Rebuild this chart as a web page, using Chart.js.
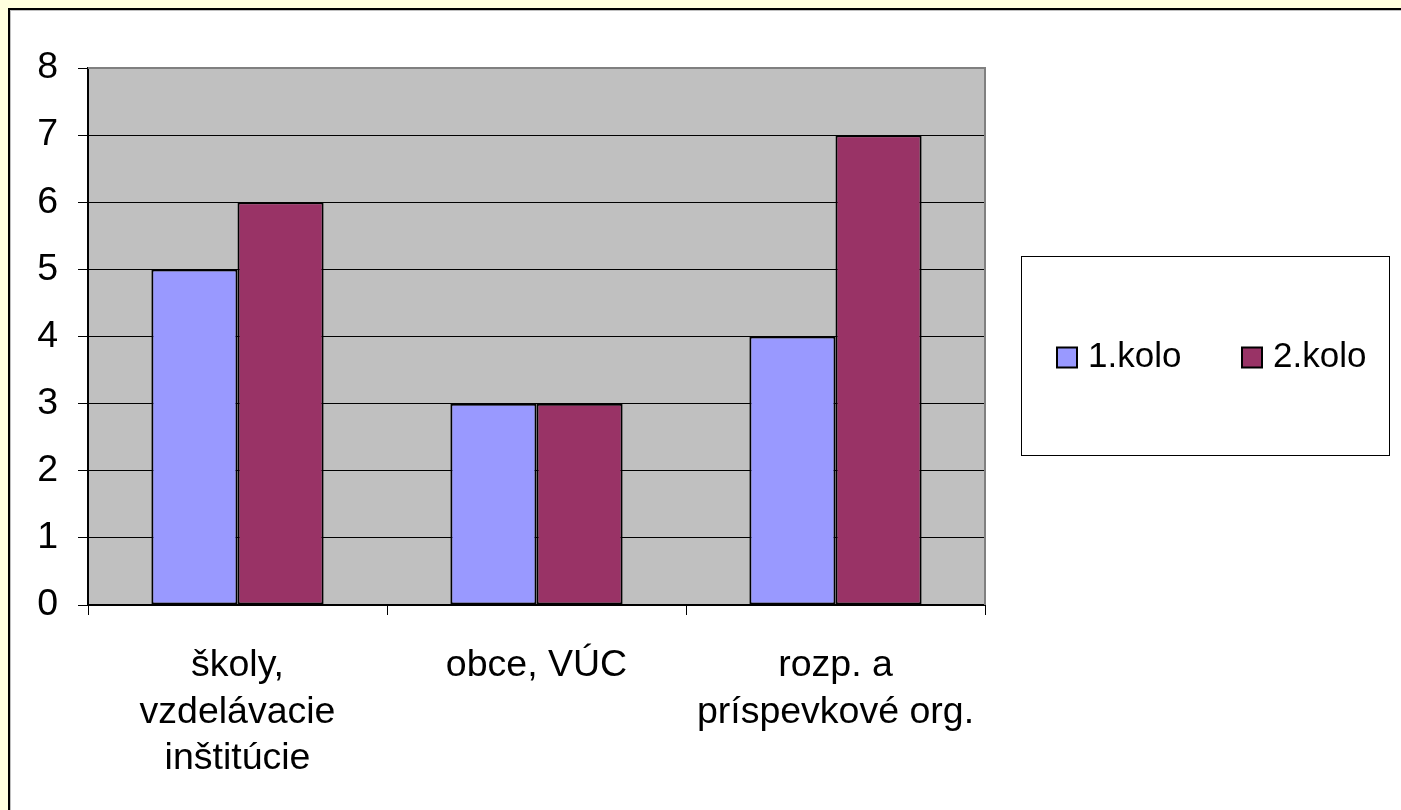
<!DOCTYPE html>
<html lang="sk">
<head>
  <meta charset="UTF-8">
  <title>Kolá</title>
  <style>
    html, body { margin: 0; padding: 0; background: #FFFFDE; overflow: hidden; }
    #frame {
      position: absolute; left: 8px; top: 8px; right: 0; bottom: 0;
      background: #fff; border-left: 2px solid #000; border-top: 2px solid #000;
      box-shadow: inset 1px 1px 0 #c0c0c0;
    }
    #myChart { position: absolute; left: 0; top: 0; }
  </style>
</head>
<body>
  <div id="frame"></div>
  <canvas id="myChart" width="1401" height="810"></canvas>

  <script src="https://cdn.jsdelivr.net/npm/chart.js"></script>
  <script>
    // data
    const categories = [
      ['školy,', 'vzdelávacie', 'inštitúcie'],
      'obce, VÚC',
      ['rozp. a', 'príspevkové org.']
    ];
    const kolo1 = [5, 3, 4];
    const kolo2 = [6, 3, 7];
    const seriesNames = ['1.kolo', '2.kolo'];

    const FONT = 'Liberation Sans, Arial, sans-serif';

    // gray plot area + its frame
    const plotArea = {
      id: 'plotArea',
      beforeDraw(chart) {
        const { ctx, chartArea: a } = chart;
        ctx.save();
        ctx.fillStyle = '#C0C0C0';
        ctx.fillRect(a.left, a.top, a.right - a.left, a.bottom - a.top);
        ctx.restore();
      },
      afterDatasetsDraw(chart) {
        const { ctx, chartArea: a } = chart;
        ctx.save();
        ctx.strokeStyle = '#808080';
        ctx.lineWidth = 2;
        ctx.beginPath();
        ctx.moveTo(a.left, a.top);
        ctx.lineTo(a.right, a.top);
        ctx.lineTo(a.right, a.bottom);
        ctx.stroke();
        ctx.restore();
      }
    };

    // boxed legend on the right, items side by side
    const boxLegend = {
      id: 'boxLegend',
      afterDraw(chart) {
        const ctx = chart.ctx;
        const box = { x: 1021, y: 256, w: 368, h: 199 };
        ctx.save();
        ctx.strokeStyle = '#000';
        ctx.lineWidth = 1;
        ctx.strokeRect(box.x + 0.5, box.y + 0.5, box.w, box.h);
        ctx.font = '35px ' + FONT;
        ctx.textBaseline = 'middle';
        const cy = box.y + box.h / 2 + 2;
        const starts = [1057, 1242];
        chart.data.datasets.forEach((ds, i) => {
          const x = starts[i];
          ctx.fillStyle = ds.backgroundColor;
          ctx.fillRect(x, cy - 10, 20, 20);
          ctx.strokeStyle = '#000';
          ctx.lineWidth = 2;
          ctx.strokeRect(x, cy - 10, 20, 20);
          ctx.fillStyle = '#000';
          ctx.fillText(ds.label, x + 31, cy);
        });
        ctx.restore();
      }
    };

    const ctx = document.getElementById('myChart');

    const grafica = new Chart(ctx, {
      type: 'bar',
      data: {
        labels: categories,
        datasets: [{
          label: seriesNames[0],
          data: kolo1,
          backgroundColor: '#9999FF',
          borderColor: '#000',
          borderWidth: 2,
          borderSkipped: false
        }, {
          label: seriesNames[1],
          data: kolo2,
          backgroundColor: '#993366',
          borderColor: '#000',
          borderWidth: 2,
          borderSkipped: false
        }]
      },
      options: {
        responsive: false,
        animation: false,
        datasets: {
          bar: { barPercentage: 1, categoryPercentage: 0.576 }
        },
        layout: {
          padding: { left: 10, top: 68, right: 416, bottom: 10 }
        },
        plugins: {
          legend: { display: false },
          tooltip: { enabled: false }
        },
        scales: {
          x: {
            offset: true,
            afterFit(scale) { scale.height = 810 - 605 - 10; },
            grid: {
              offset: true,
              drawOnChartArea: false,
              tickLength: 10,
              color: '#000',
              lineWidth: 1
            },
            border: { color: '#000', width: 2 },
            ticks: {
              color: '#000',
              padding: 28,
              font: { family: FONT, size: 37.5, lineHeight: 1.23 },
              maxRotation: 0,
              autoSkip: false
            }
          },
          y: {
            min: 0,
            max: 8,
            afterFit(scale) { scale.width = 88 - 10; },
            grid: {
              tickLength: 10,
              color: '#000',
              lineWidth: 1
            },
            border: { color: '#000', width: 2 },
            ticks: {
              stepSize: 1,
              color: '#000',
              padding: 20,
              font: { family: FONT, size: 37.5 }
            }
          }
        }
      },
      plugins: [plotArea, boxLegend]
    });
  </script>
</body>
</html>
